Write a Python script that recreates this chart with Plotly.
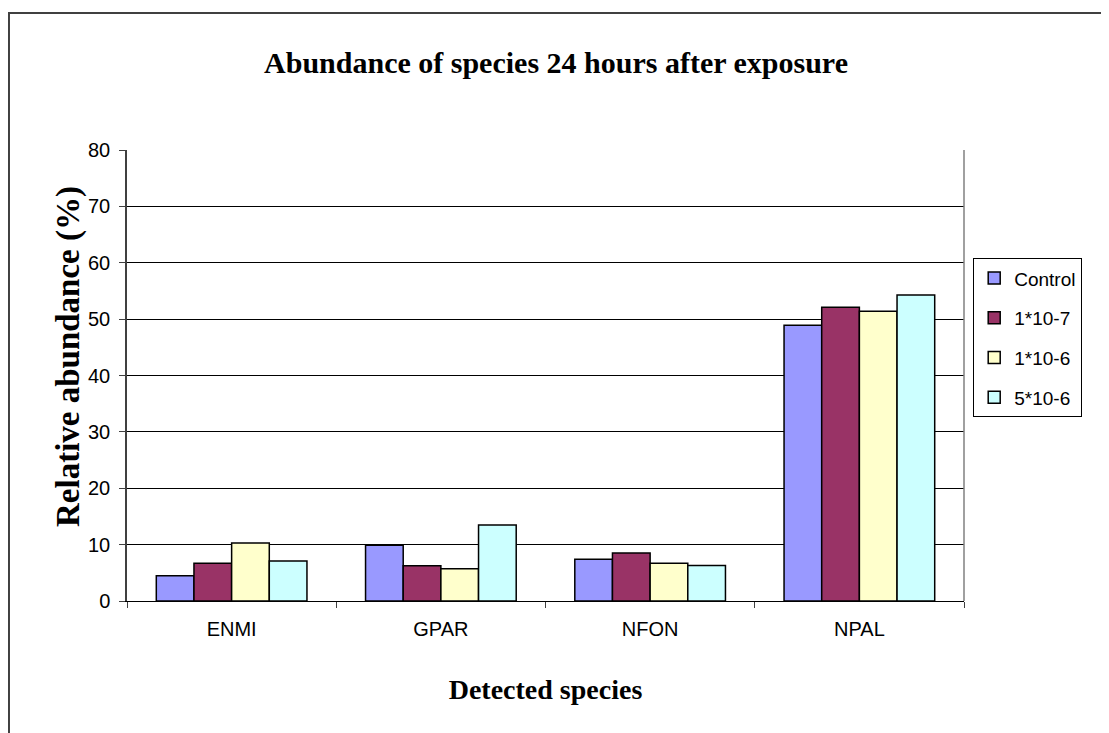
import plotly.graph_objects as go

categories = ["ENMI", "GPAR", "NFON", "NPAL"]
series_names = ["Control", "1*10-7", "1*10-6", "5*10-6"]
control = [4.5, 9.9, 7.4, 48.9]
c1e7 = [6.7, 6.25, 8.5, 52.1]
c1e6 = [10.3, 5.7, 6.7, 51.4]
c5e6 = [7.1, 13.5, 6.3, 54.3]
series_values = [control, c1e7, c1e6, c5e6]
colors = ["#9999FF", "#993366", "#FFFFCC", "#CCFFFF"]

fig = go.Figure()
for name, vals, col in zip(series_names, series_values, colors):
    fig.add_trace(go.Bar(
        x=categories, y=vals, name=name, legendgroup=name,
        marker=dict(color=col, line=dict(color="black", width=1.5)),
    ))

sans = "Liberation Sans, Arial, sans-serif"
serif = "Liberation Serif, Times New Roman, serif"

W, H = 1109, 733
L, R, T, B = 119, 153, 142, 140

fig.update_layout(
    width=W, height=H,
    margin=dict(l=L, r=R, t=T, b=B),
    paper_bgcolor="white", plot_bgcolor="white",
    barmode="group", bargap=0.28, bargroupgap=0,
    title=dict(text="<b>Abundance of species 24 hours after exposure</b>",
               x=(556 - 8) / W, xanchor="center", y=1 - 54 / H, yanchor="middle",
               font=dict(family=serif, size=30, color="black")),
    legend=dict(x=1.011, xanchor="left", y=0.76, yanchor="top",
                bordercolor="black", borderwidth=1, bgcolor="white",
                font=dict(family=sans, size=19, color="black"),
                traceorder="grouped", tracegroupgap=12),
    showlegend=True,
    shapes=[dict(type="rect", xref="paper", yref="paper",
                 x0=-0.141, x1=2.0, y0=-1.0, y1=1.304,
                 line=dict(color="#404040", width=2), fillcolor="rgba(0,0,0,0)",
                 layer="below")],
    annotations=[dict(text="<b>Relative abundance (%)</b>", textangle=-90,
                      xref="paper", yref="paper",
                      x=(60 - L) / (W - L - R), y=(H - B - 349) / (H - T - B),
                      xanchor="center", yanchor="middle", showarrow=False,
                      font=dict(family=serif, size=33, color="black"))],
)
fig.update_xaxes(
    showline=True, linecolor="black", linewidth=1, mirror=False,
    ticks="outside", tickson="boundaries", ticklen=6, tickcolor="#404040",
    ticklabelstandoff=10,
    tickfont=dict(family=sans, size=20, color="black"),
    title=dict(text="<b>Detected species</b>", font=dict(family=serif, size=28, color="black"), standoff=40),
)
fig.update_yaxes(
    range=[0, 80], dtick=10, showgrid=True, gridcolor="black", gridwidth=1,
    showline=True, linecolor="#404040", linewidth=1.5, mirror=False,
    ticks="outside", ticklen=6, tickcolor="#404040", zeroline=False,
    ticklabelstandoff=5,
    tickfont=dict(family=sans, size=20, color="black"),
)
fig.add_shape(type="line", xref="paper", yref="paper", x0=1, x1=1, y0=0, y1=1,
              line=dict(color="#808080", width=1.5))

fig.write_html("out.html")
